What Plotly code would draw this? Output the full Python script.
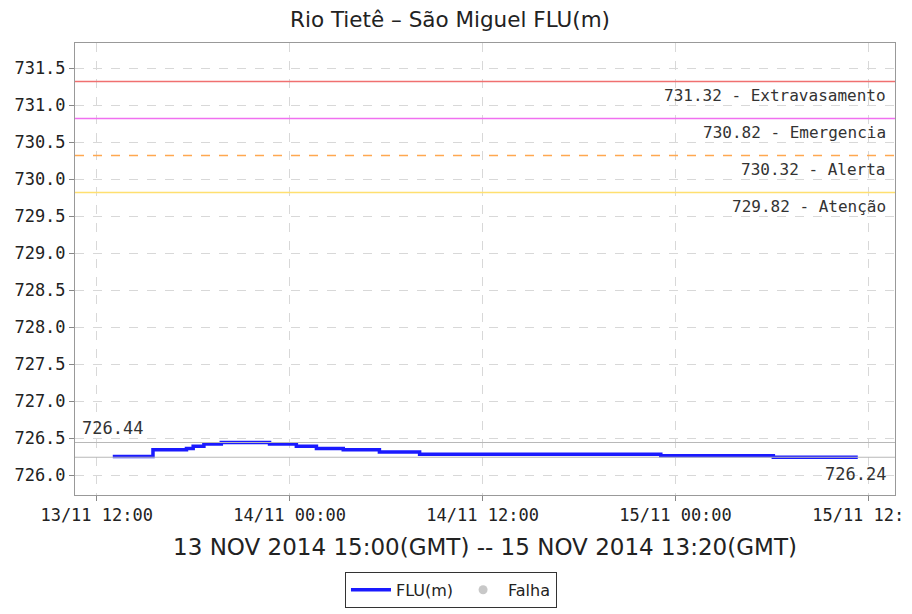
import plotly.graph_objects as go

# ---- data ----
step_times = ["2014-11-13 13:00", "2014-11-13 15:30", "2014-11-13 17:35", "2014-11-13 18:00",
              "2014-11-13 18:40", "2014-11-13 19:45", "2014-11-13 22:45", "2014-11-14 00:25",
              "2014-11-14 01:40", "2014-11-14 03:20", "2014-11-14 05:35", "2014-11-14 08:05",
              "2014-11-14 23:05", "2014-11-15 06:05", "2014-11-15 11:20"]
step_values = [726.25, 726.34, 726.36, 726.39, 726.42, 726.44, 726.42, 726.39, 726.36,
               726.34, 726.31, 726.28, 726.26, 726.24, 726.24]

threshold_values = [731.32, 730.82, 730.32, 729.82]
threshold_names = ["Extravasamento", "Emergencia", "Alerta", "Atenção"]
threshold_colors = ["#f07070", "#f070f0", "#ffa850", "#ffe070"]
threshold_dash = ["solid", "solid", "dash", "solid"]

max_value = 726.44
min_value = 726.24

x_range = ["2014-11-13 10:39", "2014-11-15 13:39"]
y_range = [725.73, 731.84]

title_text = "Rio Tietê – São Miguel FLU(m)"
xaxis_title = "13 NOV 2014 15:00(GMT) -- 15 NOV 2014 13:20(GMT)"

mono = "DejaVu Sans Mono"
sans = "DejaVu Sans"

# the page body has a default 8px margin, so the figure is sized to fit the window
W, H = 904, 606

fig = go.Figure()

fig.add_trace(go.Scatter(
    x=step_times, y=step_values, mode="lines", line_shape="hv",
    line=dict(color="#1a1aff", width=3.5), name="FLU(m)"))
fig.add_trace(go.Scatter(
    x=[None], y=[None], mode="markers", name="Falha",
    marker=dict(color="#c8c8c8", size=9, symbol="circle")))

for v, n, c, d in zip(threshold_values, threshold_names, threshold_colors, threshold_dash):
    fig.add_shape(type="line", xref="paper", x0=0, x1=1, yref="y", y0=v, y1=v,
                  line=dict(color=c, width=1.4, dash=d))
    fig.add_annotation(xref="paper", x=0.992, yref="y", y=v, text=f"{v:.2f} - {n}",
                       xanchor="right", yanchor="top", yshift=-3, showarrow=False,
                       font=dict(family=mono, size=16, color="#333333"))

for v in [max_value, min_value]:
    fig.add_shape(type="line", xref="paper", x0=0, x1=1, yref="y", y0=v, y1=v,
                  line=dict(color="#b8b8b8", width=1.2))
fig.add_annotation(xref="paper", x=0.006, yref="y", y=max_value, text=f"{max_value:.2f}",
                   xanchor="left", yanchor="bottom", yshift=2, showarrow=False,
                   font=dict(family=mono, size=17, color="#333333"))
fig.add_annotation(xref="paper", x=0.992, yref="y", y=min_value, text=f"{min_value:.2f}",
                   xanchor="right", yanchor="top", yshift=-5, showarrow=False,
                   font=dict(family=mono, size=17, color="#333333"))

fig.update_layout(
    width=W, height=H,
    margin=dict(l=67, r=17, t=35, b=119, autoexpand=False),
    paper_bgcolor="white", plot_bgcolor="white",
    title=dict(text=title_text, x=(450 - 8) / W, xanchor="center", y=1 - 11 / H, yanchor="middle",
               font=dict(family=sans, size=21.5, color="#222222")),
    showlegend=True,
    legend=dict(orientation="h", x=0.4585, xanchor="center", y=-0.17, yanchor="top",
                bordercolor="#333333", borderwidth=1, font=dict(family=sans, size=16, color="#222222"),
                itemwidth=40),
    xaxis=dict(range=x_range, type="date", tick0="2014-11-13 12:00", dtick=43200000,
               tickformat="%d/%m %H:%M", showgrid=True, gridcolor="#d8d8d8", griddash="dash",
               ticks="outside", ticklen=5, tickcolor="#888888", showline=True, mirror=True,
               linecolor="#999999", zeroline=False, automargin=False, ticklabeloverflow="allow",
               tickfont=dict(family=mono, size=17, color="#222222"),
               title=dict(text=xaxis_title, font=dict(family=sans, size=23, color="#222222"),
                          standoff=14)),
    yaxis=dict(range=y_range, tick0=726.0, dtick=0.5, tickformat=".1f", showgrid=True,
               gridcolor="#d8d8d8", griddash="dash", ticks="outside", ticklen=5,
               tickcolor="#888888", showline=True, mirror=True, linecolor="#999999",
               zeroline=False, automargin=False,
               tickfont=dict(family=mono, size=17, color="#222222")),
)

fig.write_html("out.html")
